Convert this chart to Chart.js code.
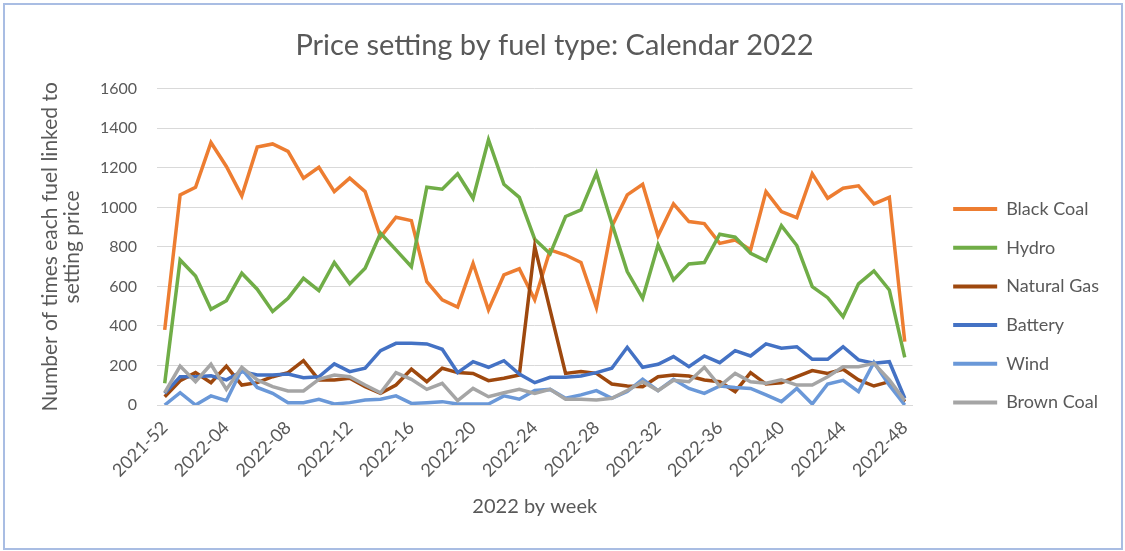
<!DOCTYPE html>
<html>
<head>
<meta charset="utf-8">
<script src="https://cdn.jsdelivr.net/npm/chart.js@4"></script>
<style>
  body { margin: 0; background: #fff; }
  #wrap { position: relative; width: 1125px; height: 551px; }
  #frame { position: absolute; left: 3px; top: 3px; width: 1116px; height: 543px; border: 2px solid #A9BDE3; pointer-events: none; }
</style>
</head>
<body>
<div id="wrap">
  <canvas id="fuelChart" width="1125" height="551"></canvas>
  <div id="frame"></div>
</div>
<script>

// weeks 2021-52 .. 2022-48
let weeks = ["2021-52"]
for (let w = 1; w <= 48; w++) {
    weeks.push("2022-" + (w < 10 ? "0" + w : w))
}

let blackCoal = [380, 1063, 1102, 1328, 1207, 1058, 1305, 1321, 1283, 1148, 1203, 1080, 1148, 1080, 850, 950, 933, 624, 532, 495,
    717, 481, 658, 689, 532, 785, 759, 721, 493, 903, 1063, 1117, 856, 1018, 928, 918, 818, 835, 785, 1080,
    979, 948, 1170, 1046, 1097, 1109, 1018, 1051, 321]

let hydro = [110, 734, 653, 484, 528, 667, 586, 473, 540, 641, 579, 721, 613, 692, 869, 785, 700, 1102, 1092, 1170,
    1046, 1342, 1117, 1051, 839, 765, 954, 987, 1173, 920, 675, 540, 810, 633, 714, 721, 864, 849, 768, 729,
    908, 807, 599, 543, 447, 613, 678, 582, 241]

let naturalGas = [42, 123, 164, 113, 197, 101, 113, 143, 164, 224, 127, 127, 135, 93, 59, 101, 181, 118, 186, 164,
    160, 123, 135, 152, 802, 480, 160, 169, 160, 106, 96, 93, 143, 152, 147, 127, 118, 68, 164, 106,
    113, 143, 174, 160, 181, 127, 96, 118, 17]

let battery = [59, 143, 143, 148, 127, 169, 152, 152, 157, 138, 143, 208, 169, 186, 275, 312, 312, 309, 282, 164,
    219, 191, 224, 157, 113, 140, 140, 147, 164, 186, 292, 191, 206, 245, 194, 248, 214, 275, 248, 309,
    287, 295, 231, 231, 295, 228, 211, 219, 34]

let wind = [0, 62, 0, 46, 22, 181, 89, 59, 12, 12, 29, 5, 12, 25, 29, 46, 8, 12, 17, 5,
    5, 5, 46, 29, 73, 79, 34, 51, 73, 34, 68, 130, 73, 130, 84, 59, 96, 89, 84, 51,
    17, 84, 5, 106, 125, 68, 215, 100, 0]

let brownCoal = [62, 197, 118, 206, 79, 191, 127, 93, 71, 71, 130, 152, 143, 101, 62, 164, 130, 79, 110, 22,
    84, 42, 62, 79, 59, 79, 29, 29, 25, 34, 73, 118, 73, 125, 118, 191, 96, 160, 118, 110,
    127, 101, 101, 143, 194, 194, 211, 127, 22]

let seriesNames = ["Black Coal", "Hydro", "Natural Gas", "Battery", "Wind", "Brown Coal"]
let seriesData = [blackCoal, hydro, naturalGas, battery, wind, brownCoal]
let seriesColors = ["#ED7D31", "#70AD47", "#9E480E", "#4472C4", "#6A98D8", "#A5A5A5"]

Chart.defaults.font.family = "Lato"
Chart.defaults.color = "#595959"

let datasets = seriesNames.map(function (name, i) {
    return {
        label: name,
        data: seriesData[i],
        borderColor: seriesColors[i],
        backgroundColor: seriesColors[i],
        borderWidth: 3.5,
        pointRadius: 0,
        tension: 0,
        order: seriesNames.length - i   // later series drawn on top, like excel
    }
})

let canvs = document.getElementById("fuelChart").getContext("2d")
let fuelChart = new Chart(canvs, {
    type: "line",
    data: {
        labels: weeks,
        datasets: datasets
    },
    options: {
        responsive: false,
        animation: false,
        layout: { padding: { left: 0, right: 16, top: 0, bottom: 0 } },
        plugins: {
            title: {
                display: true,
                text: "Price setting by fuel type: Calendar 2022",
                font: { size: 29, weight: "normal", lineHeight: 1.2 },
                color: "#595959",
                padding: { top: 28, bottom: 26 }
            },
            legend: {
                position: "right",
                align: "center",
                title: { display: true, text: " ", font: { size: 10 }, padding: { top: 0, bottom: 48.5 } },
                labels: {
                    boxWidth: 44,
                    boxHeight: 4,
                    padding: 20.7,
                    font: { size: 18 },
                    color: "#595959",
                    sort: function (a, b) { return a.datasetIndex - b.datasetIndex },
                    generateLabels: function (chart) {
                        let items = Chart.defaults.plugins.legend.labels.generateLabels(chart)
                        items.forEach(function (it) { it.lineWidth = 0 })
                        return items
                    }
                }
            },
            tooltip: { enabled: false }
        },
        scales: {
            x: {
                offset: true,
                grid: { display: false },
                border: { display: true, color: "#D9D9D9", width: 1 },
                ticks: {
                    autoSkip: false,
                    minRotation: 45,
                    maxRotation: 45,
                    padding: 4,
                    font: { size: 18 },
                    color: "#595959",
                    callback: function (val, i) { return i % 4 === 0 ? weeks[i] : "" }
                },
                title: {
                    display: true,
                    text: "2022 by week",
                    font: { size: 20, lineHeight: 1.2 },
                    color: "#595959",
                    padding: { top: 0, bottom: 32 }
                },
                afterFit: function (scale) { scale.height = 146 }
            },
            y: {
                min: 0,
                max: 1600,
                ticks: {
                    stepSize: 200,
                    padding: 20,
                    font: { size: 16 },
                    color: "#595959",
                    callback: function (val) { return String(val) }
                },
                grid: { color: "#D9D9D9", lineWidth: 1, drawTicks: false },
                border: { display: false },
                title: {
                    display: true,
                    text: ["Number of times each fuel linked to", "setting price"],
                    font: { size: 21, lineHeight: 1.05 },
                    color: "#595959",
                    padding: { top: 39, bottom: 0 }
                },
                afterFit: function (scale) { scale.width = 157 }
            },
            // empty spacer between plot and legend
            gap: {
                position: "right",
                display: true,
                grid: { display: false },
                border: { display: false },
                ticks: { display: false },
                afterFit: function (scale) { scale.width = 20 }
            }
        }
    }
})

</script>
</body>
</html>
